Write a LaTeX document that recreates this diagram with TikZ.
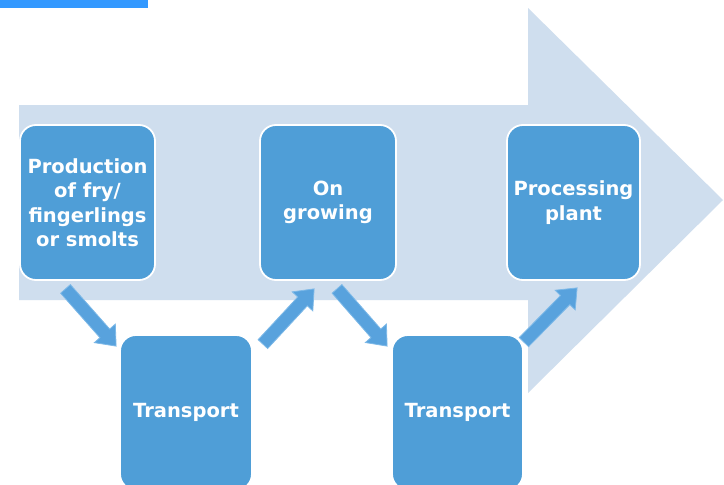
\documentclass[tikz,border=0pt]{standalone}
\usepackage{fontspec}
\setmainfont{DejaVu Sans}
\usetikzlibrary{calc}

\definecolor{bandblue}{RGB}{207,222,238}
\definecolor{boxblue}{RGB}{79,158,215}
\definecolor{linkblue}{RGB}{88,162,221}
\definecolor{linkedge}{RGB}{125,185,232}
\definecolor{barblue}{RGB}{51,153,255}

\tikzset{
  x=1pt, y=-1pt,
  stage/.style={draw=white, line width=1.8pt, fill=boxblue, rounded corners=16pt,
    text=white, font=\bfseries\fontsize{19.5}{24.5}\selectfont, align=center,
    inner sep=0pt},
  band/.style={fill=bandblue},
  link/.style={fill=linkblue, draw=linkedge, line width=0.8pt, line join=miter},
}

% block arrow between two named points
\newcommand\flowlink[2]{%
  \path[link]
    ($(#1)!6.5pt!90:(#2)$) --
    ($($(#2)!17pt!(#1)$)!6.5pt!90:(#2)$) --
    ($($(#2)!17pt!(#1)$)!14pt!90:(#2)$) --
    (#2) --
    ($($(#2)!17pt!(#1)$)!14pt!-90:(#2)$) --
    ($($(#2)!17pt!(#1)$)!6.5pt!-90:(#2)$) --
    ($(#1)!6.5pt!-90:(#2)$) -- cycle;}

\begin{document}
\begin{tikzpicture}
\clip (0,0) rectangle (724,485);
\fill[white] (0,0) rectangle (724,485);

% header strip
\fill[barblue] (0,0) rectangle (148,8);

% large background arrow
\path[band] (19,105) -- (528,105) -- (528,8) -- (723,200) -- (528,393)
  -- (528,300) -- (19,300) -- cycle;

% stages
\node[stage, minimum width=135pt, minimum height=155pt] (fry) at (87.5,202.5)
  {Production\\of fry/\\fingerlings\\or smolts};
\node[stage, minimum width=132pt, minimum height=155pt] (trA) at (186,412.5)
  {Transport};
\node[stage, minimum width=136pt, minimum height=155pt] (grow) at (328,202.5)
  {On\\growing};
\node[stage, minimum width=131pt, minimum height=155pt] (trB) at (457.5,412.5)
  {Transport};
\node[stage, minimum width=133pt, minimum height=155pt] (plant) at (573.5,202.5)
  {Processing\\plant};

% link end points
\coordinate (l1s) at ($(fry.south)+(-22,8)$);
\coordinate (l1e) at ($(trA.north west)+(-3,12)$);
\coordinate (l2s) at ($(trA.north east)+(10,10)$);
\coordinate (l2e) at ($(grow.south west)+(55,8)$);
\coordinate (l3s) at ($(grow.south)+(9,8)$);
\coordinate (l3e) at ($(trB.north west)+(-4,12)$);
\coordinate (l4s) at ($(trB.north east)+(0,8)$);
\coordinate (l4e) at ($(plant.south west)+(71,7)$);

\flowlink{l1s}{l1e}
\flowlink{l2s}{l2e}
\flowlink{l3s}{l3e}
\flowlink{l4s}{l4e}
\end{tikzpicture}
\end{document}
